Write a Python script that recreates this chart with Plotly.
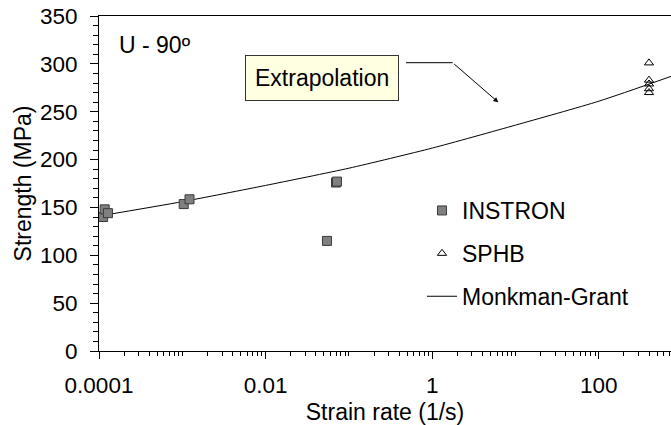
import plotly.graph_objects as go

# INSTRON (quasi-static) tests
instron_rate = [1.12e-4, 1.17e-4, 1.28e-4, 1.04e-3, 1.22e-3, 0.0545, 0.0700, 0.0718]
instron_strength = [140, 148, 144, 153.5, 158.5, 115, 176, 177]

# SPHB (split Hopkinson bar) tests
sphb_rate = [400, 400, 400, 400, 400]
sphb_strength = [301, 283, 279, 274, 270]

# Monkman-Grant fit, extended beyond the measured range
mg_rate = [1e-4, 1e-3, 1e-2, 1e-1, 1, 10, 100, 740]
mg_strength = [141, 156, 173, 191, 212, 236, 261, 287]

x_tick_vals = [1e-4, 1e-2, 1, 100]
x_tick_text = ["0.0001", "0.01", "1", "100"]

FONT = "Liberation Sans, Arial, sans-serif"

fig = go.Figure()

fig.add_trace(go.Scatter(
    x=mg_rate, y=mg_strength, mode="lines", name="Monkman-Grant",
    line=dict(color="black", width=1, shape="spline", smoothing=0.6),
    legendgroup="c", legendrank=3,
))
fig.add_trace(go.Scatter(
    x=instron_rate, y=instron_strength, mode="markers", name="INSTRON",
    marker=dict(symbol="square", size=9, color="#808080",
                line=dict(color="#3a3a3a", width=1)),
    legendgroup="a", legendrank=1,
))
fig.add_trace(go.Scatter(
    x=sphb_rate, y=sphb_strength, mode="markers", name="SPHB",
    marker=dict(symbol="triangle-up-open", size=8, color="black",
                line=dict(color="black", width=1)),
    legendgroup="b", legendrank=2,
))

# plot area in pixels: left 99, right 671, top 16, bottom 351
L, R, T, B = 99, 671, 16, 351
def px(x):
    return (x - L) / (R - L)
def py(y):
    return (B - y) / (B - T)

minor_vals = [k * 10.0 ** d for d in range(-4, 3) for k in range(2, 11)]

fig.update_layout(
    width=671, height=425,
    margin=dict(l=L, r=671 - R, t=T, b=425 - B),
    paper_bgcolor="white", plot_bgcolor="white",
    font=dict(family=FONT, size=23, color="black"),
    showlegend=True,
    legend=dict(
        x=px(422), y=py(189), xanchor="left", yanchor="top",
        bgcolor="rgba(0,0,0,0)", font=dict(size=23),
        traceorder="grouped", tracegroupgap=10, itemwidth=30,
    ),
    xaxis=dict(
        type="log", range=[-4, 2.866],
        tickmode="array", tickvals=x_tick_vals, ticktext=x_tick_text,
        ticks="outside", ticklen=7, tickcolor="black", tickwidth=1,
        ticklabelstandoff=7,
        minor=dict(tickmode="array", tickvals=minor_vals, ticks="outside",
                   ticklen=4, tickcolor="black", tickwidth=1, showgrid=False),
        showline=True, linecolor="black", linewidth=1, mirror=True,
        showgrid=False, zeroline=False,
        tickfont=dict(size=22.5),
        title=dict(text="Strain rate (1/s)", font=dict(size=23), standoff=12),
    ),
    yaxis=dict(
        range=[0, 350], tickmode="linear", tick0=0, dtick=50,
        ticks="outside", ticklen=8, tickcolor="black", tickwidth=1,
        ticklabelstandoff=8,
        minor=dict(dtick=10, ticks="outside", ticklen=5, tickcolor="black",
                   tickwidth=1, showgrid=False),
        showline=True, linecolor="black", linewidth=1,
        showgrid=False, zeroline=False,
        tickfont=dict(size=22.5),
        title=dict(text="Strength (MPa)", font=dict(size=23), standoff=1),
    ),
)

fig.add_annotation(
    xref="paper", yref="paper", x=px(155), y=py(45),
    text="U - 90º", showarrow=False, xanchor="center", yanchor="middle",
    font=dict(size=23),
)

fig.add_annotation(
    xref="paper", yref="paper", x=px(322.3), y=py(78.2),
    text="Extrapolation", showarrow=False, xanchor="center", yanchor="middle",
    font=dict(size=23), bgcolor="#FFFFE1", bordercolor="#333333",
    borderwidth=1, borderpad=9,
)

# leader line from the label box to the fitted curve
fig.add_shape(type="line", xref="paper", yref="paper",
              x0=px(406), y0=py(62.7), x1=px(452.7), y1=py(62.7),
              line=dict(color="black", width=1))
fig.add_annotation(
    xref="paper", yref="paper", x=px(498.3), y=py(102.3),
    ax=452.7 - 498.3, ay=62.7 - 102.3, text="", showarrow=True,
    arrowhead=2, arrowsize=1, arrowwidth=1, arrowcolor="black",
)

fig.write_html("out.html")
